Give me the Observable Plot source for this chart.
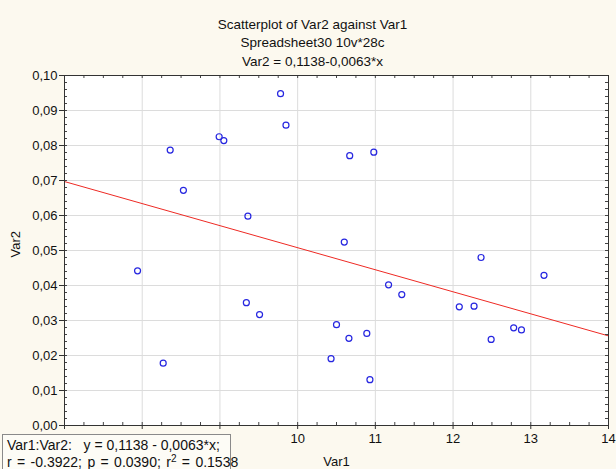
<!DOCTYPE html>
<html><head><meta charset="utf-8">
<script src="https://cdn.jsdelivr.net/npm/d3@7"></script>
<script src="https://cdn.jsdelivr.net/npm/@observablehq/plot@0.6"></script>
<style>
body{margin:0;background:#fcf9ef;}
#chart svg{display:block;}
</style>
</head><body><div id="chart"></div>
<script>
// ---- data ----
const var1 = [9.78, 9.85, 8.99, 9.05, 8.36, 8.53, 9.36, 7.94, 9.34, 9.51, 8.27, 10.43, 10.50, 10.67,
              10.98, 10.60, 11.17, 11.34, 10.66, 10.89, 10.93, 12.08, 12.27, 12.36, 13.17, 12.78, 12.88, 12.49];
const var2 = [0.0948, 0.0858, 0.0825, 0.0814, 0.0787, 0.0672, 0.0598, 0.0442, 0.0351, 0.0317, 0.0178, 0.0191, 0.0288, 0.0771,
              0.0781, 0.0524, 0.0402, 0.0374, 0.0249, 0.0263, 0.0131, 0.0339, 0.0341, 0.0480, 0.0429, 0.0279, 0.0273, 0.0246];
const xTicks = [7, 8, 9, 10, 11, 12, 13, 14];
const xTickLabels = ["", "", "", "10", "11", "12", "13", "14"]; // 7–9 are hidden behind the statistics box
const yTicks = [0, 0.01, 0.02, 0.03, 0.04, 0.05, 0.06, 0.07, 0.08, 0.09, 0.10];
const intercept = 0.1138;
const slope = -0.0063;
const titleLines = ["Scatterplot of Var2 against Var1", "Spreadsheet30 10v*28c", "Var2 = 0,1138-0,0063*x"];
const xLabel = "Var1";
const yLabel = "Var2";
const legendLine1 = "Var1:Var2:   y = 0,1138 - 0,0063*x;";
const legendLine2a = "r = -0.3922; p = 0.0390; r";
const legendLine2b = "2";
const legendLine2c = " = 0.1538";

// ---- layout ----
const W = 616, H = 469, mL = 64, mR = 8, mT = 75, mB = 44;
const innerW = W - mL - mR, innerH = H - mT - mB;
const xDomain = [7, 14], yDomain = [0, 0.1];
const points = var1.map((x, i) => ({x, y: var2[i]}));
const fit = xDomain.map(x => ({x, y: intercept + slope * x}));
const minorX = d3.range(0, 29).map(i => 7 + i * 0.25);
const minorY = d3.range(0, 51).map(i => i * 0.002);
const fmtY = d => d.toFixed(2).replace(".", ",");
const fmtX = d => xTickLabels[xTicks.indexOf(d)];
const font = "'Liberation Sans', Arial, sans-serif";
const titleDy = [-51, -33, -14];

const plot = Plot.plot({
  width: W, height: H,
  marginLeft: mL, marginRight: mR, marginTop: mT, marginBottom: mB,
  style: {background: "transparent", fontFamily: font, fontSize: "13px", color: "#111"},
  x: {domain: xDomain, ticks: xTicks},
  y: {domain: yDomain, ticks: yTicks},
  marks: [
    Plot.frame({fill: "white", stroke: null}),
    Plot.gridX(xTicks.slice(1, -1), {stroke: "#dcdcdc", strokeOpacity: 1}),
    Plot.gridY(yTicks.slice(1, -1), {stroke: "#dcdcdc", strokeOpacity: 1}),
    Plot.line(fit, {x: "x", y: "y", stroke: "#ee2a24", strokeWidth: 1}),
    Plot.dot(points, {x: "x", y: "y", r: 3, stroke: "#2626e0", strokeWidth: 1.2}),
    Plot.tickX(minorX, {x: d => d, insetTop: innerH - 3, stroke: "#444"}),
    Plot.tickX(minorX, {x: d => d, insetBottom: innerH - 3, stroke: "#444"}),
    Plot.tickY(minorY, {y: d => d, insetRight: innerW - 3, stroke: "#444"}),
    Plot.tickY(minorY, {y: d => d, insetLeft: innerW - 3, stroke: "#444"}),
    Plot.frame({stroke: "#333"}),
    Plot.axisX(xTicks, {tickSize: 4, tickPadding: 4, tickFormat: fmtX, label: null, fontSize: 13, stroke: "#333"}),
    Plot.axisY(yTicks, {tickSize: 5, tickPadding: 2, tickFormat: fmtY, label: null, fontSize: 13, stroke: "#333"}),
    Plot.text([xLabel], {text: d => d, frameAnchor: "bottom", lineAnchor: "middle", dy: 36, fontSize: 13, fill: "#111"}),
    Plot.text([yLabel], {text: d => d, frameAnchor: "left", lineAnchor: "middle", dx: -49, dy: 7, rotate: -90, fontSize: 13, fill: "#111"}),
    ...titleLines.map((t, i) => Plot.text([t], {text: d => d, frameAnchor: "top", lineAnchor: "middle", dx: -24, dy: titleDy[i], fontSize: 13.5, fill: "#111"}))
  ]
});
document.getElementById("chart").appendChild(plot);

// ---- statistics box (bottom-left) ----
const svg = d3.select(plot);
const box = svg.append("g").attr("font-family", font).attr("font-size", 14).attr("fill", "#111").attr("text-anchor", "start");
box.append("rect").attr("x", 2.5).attr("y", 434.5).attr("width", 228).attr("height", 40)
  .attr("fill", "#fdfcf6").attr("stroke", "#8a8a8a");
box.append("text").attr("x", 7).attr("y", 450).style("white-space", "pre").text(legendLine1);
const t2 = box.append("text").attr("x", 7).attr("y", 467).attr("word-spacing", 1.5);
t2.append("tspan").text(legendLine2a);
t2.append("tspan").attr("font-size", 10).attr("dy", -5).text(legendLine2b);
t2.append("tspan").attr("dy", 5).text(legendLine2c);
</script>
</body></html>
